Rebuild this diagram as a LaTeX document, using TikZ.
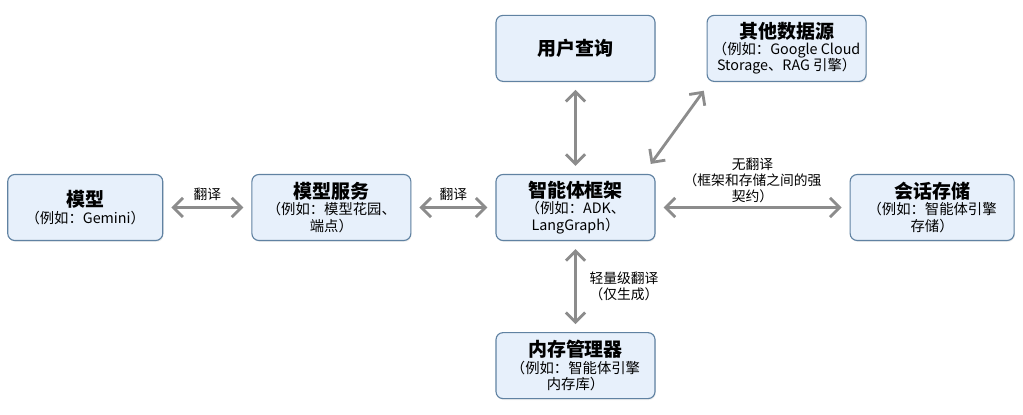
\documentclass[tikz,border=0pt]{standalone}
\usepackage{fontspec}
\setmainfont{Noto Sans CJK SC}
\usepackage{tikz}
\usetikzlibrary{arrows.meta, positioning, shadows}
\definecolor{boxfill}{HTML}{E7F0FB}
\definecolor{boxline}{HTML}{6082A2}
\definecolor{linkgray}{HTML}{8C8C8C}
\newcommand{\blocktitle}[1]{{\fontsize{13.5}{16}\selectfont\bfseries #1}}
\tikzset{%
	block/.style={draw=boxline, fill=boxfill, line width=0.8pt, rounded corners=5pt,%
		minimum width=3.975cm, minimum height=1.65cm, inner sep=2pt, align=center,%
		font=\fontsize{10.2}{11.5}\selectfont,%
		drop shadow={opacity=0.12, shadow xshift=0.6pt, shadow yshift=-1pt}},
	link/.style={{Straight Barb[length=2.4mm, width=4.8mm]}-{Straight Barb[length=2.4mm, width=4.8mm]},%
		draw=linkgray, line width=2pt, shorten <=0.2cm, shorten >=0.2cm},
	note/.style={font=\fontsize{9.8}{11.5}\selectfont, align=center, inner sep=1pt}
}
\begin{document}
\begin{tikzpicture}
	\useasboundingbox (0,0) rectangle (25.575,-10.375);

	\node[block] (fw) at (14.3875,-5.1875) {\blocktitle{智能体框架}\\（例如：ADK、\\LangGraph）};
	\node[block, left=2.1cm of fw] (svc) {\blocktitle{模型服务}\\（例如：模型花园、\\端点）};
	\node[block, left=2.2cm of svc, minimum width=3.875cm] (model) {\blocktitle{模型}\\（例如：Gemini）};
	\node[block, right=4.85cm of fw, minimum width=4.1cm] (session) {\blocktitle{会话存储}\\（例如：智能体引擎\\存储）};
	\node[block, above=2.3cm of fw] (query) {\blocktitle{用户查询}};
	\node[block, right=1.275cm of query] (ods) {\blocktitle{其他数据源}\\（例如：Google Cloud\\Storage、RAG 引擎）};
	\node[block, below=2.275cm of fw] (mem) {\blocktitle{内存管理器}\\（例如：智能体引擎\\内存库）};

	\draw[link] (model) to node[note, above=3pt] {翻译} (svc);
	\draw[link] (svc) to node[note, above=3pt] {翻译} (fw);
	\draw[link] (fw) to node[note, above=1pt] {无翻译\\（框架和存储之间的强\\契约）} (session);
	\draw[link] (query) to (fw);
	\draw[link, shorten <=0cm, shorten >=0cm] ([shift={(-0.12,0.25)}]fw.north east) to ([shift={(-0.07,-0.22)}]ods.south west);
	\draw[link] (fw) to node[note, right=8pt] {轻量级翻译\\（仅生成）} (mem);
\end{tikzpicture}
\end{document}
